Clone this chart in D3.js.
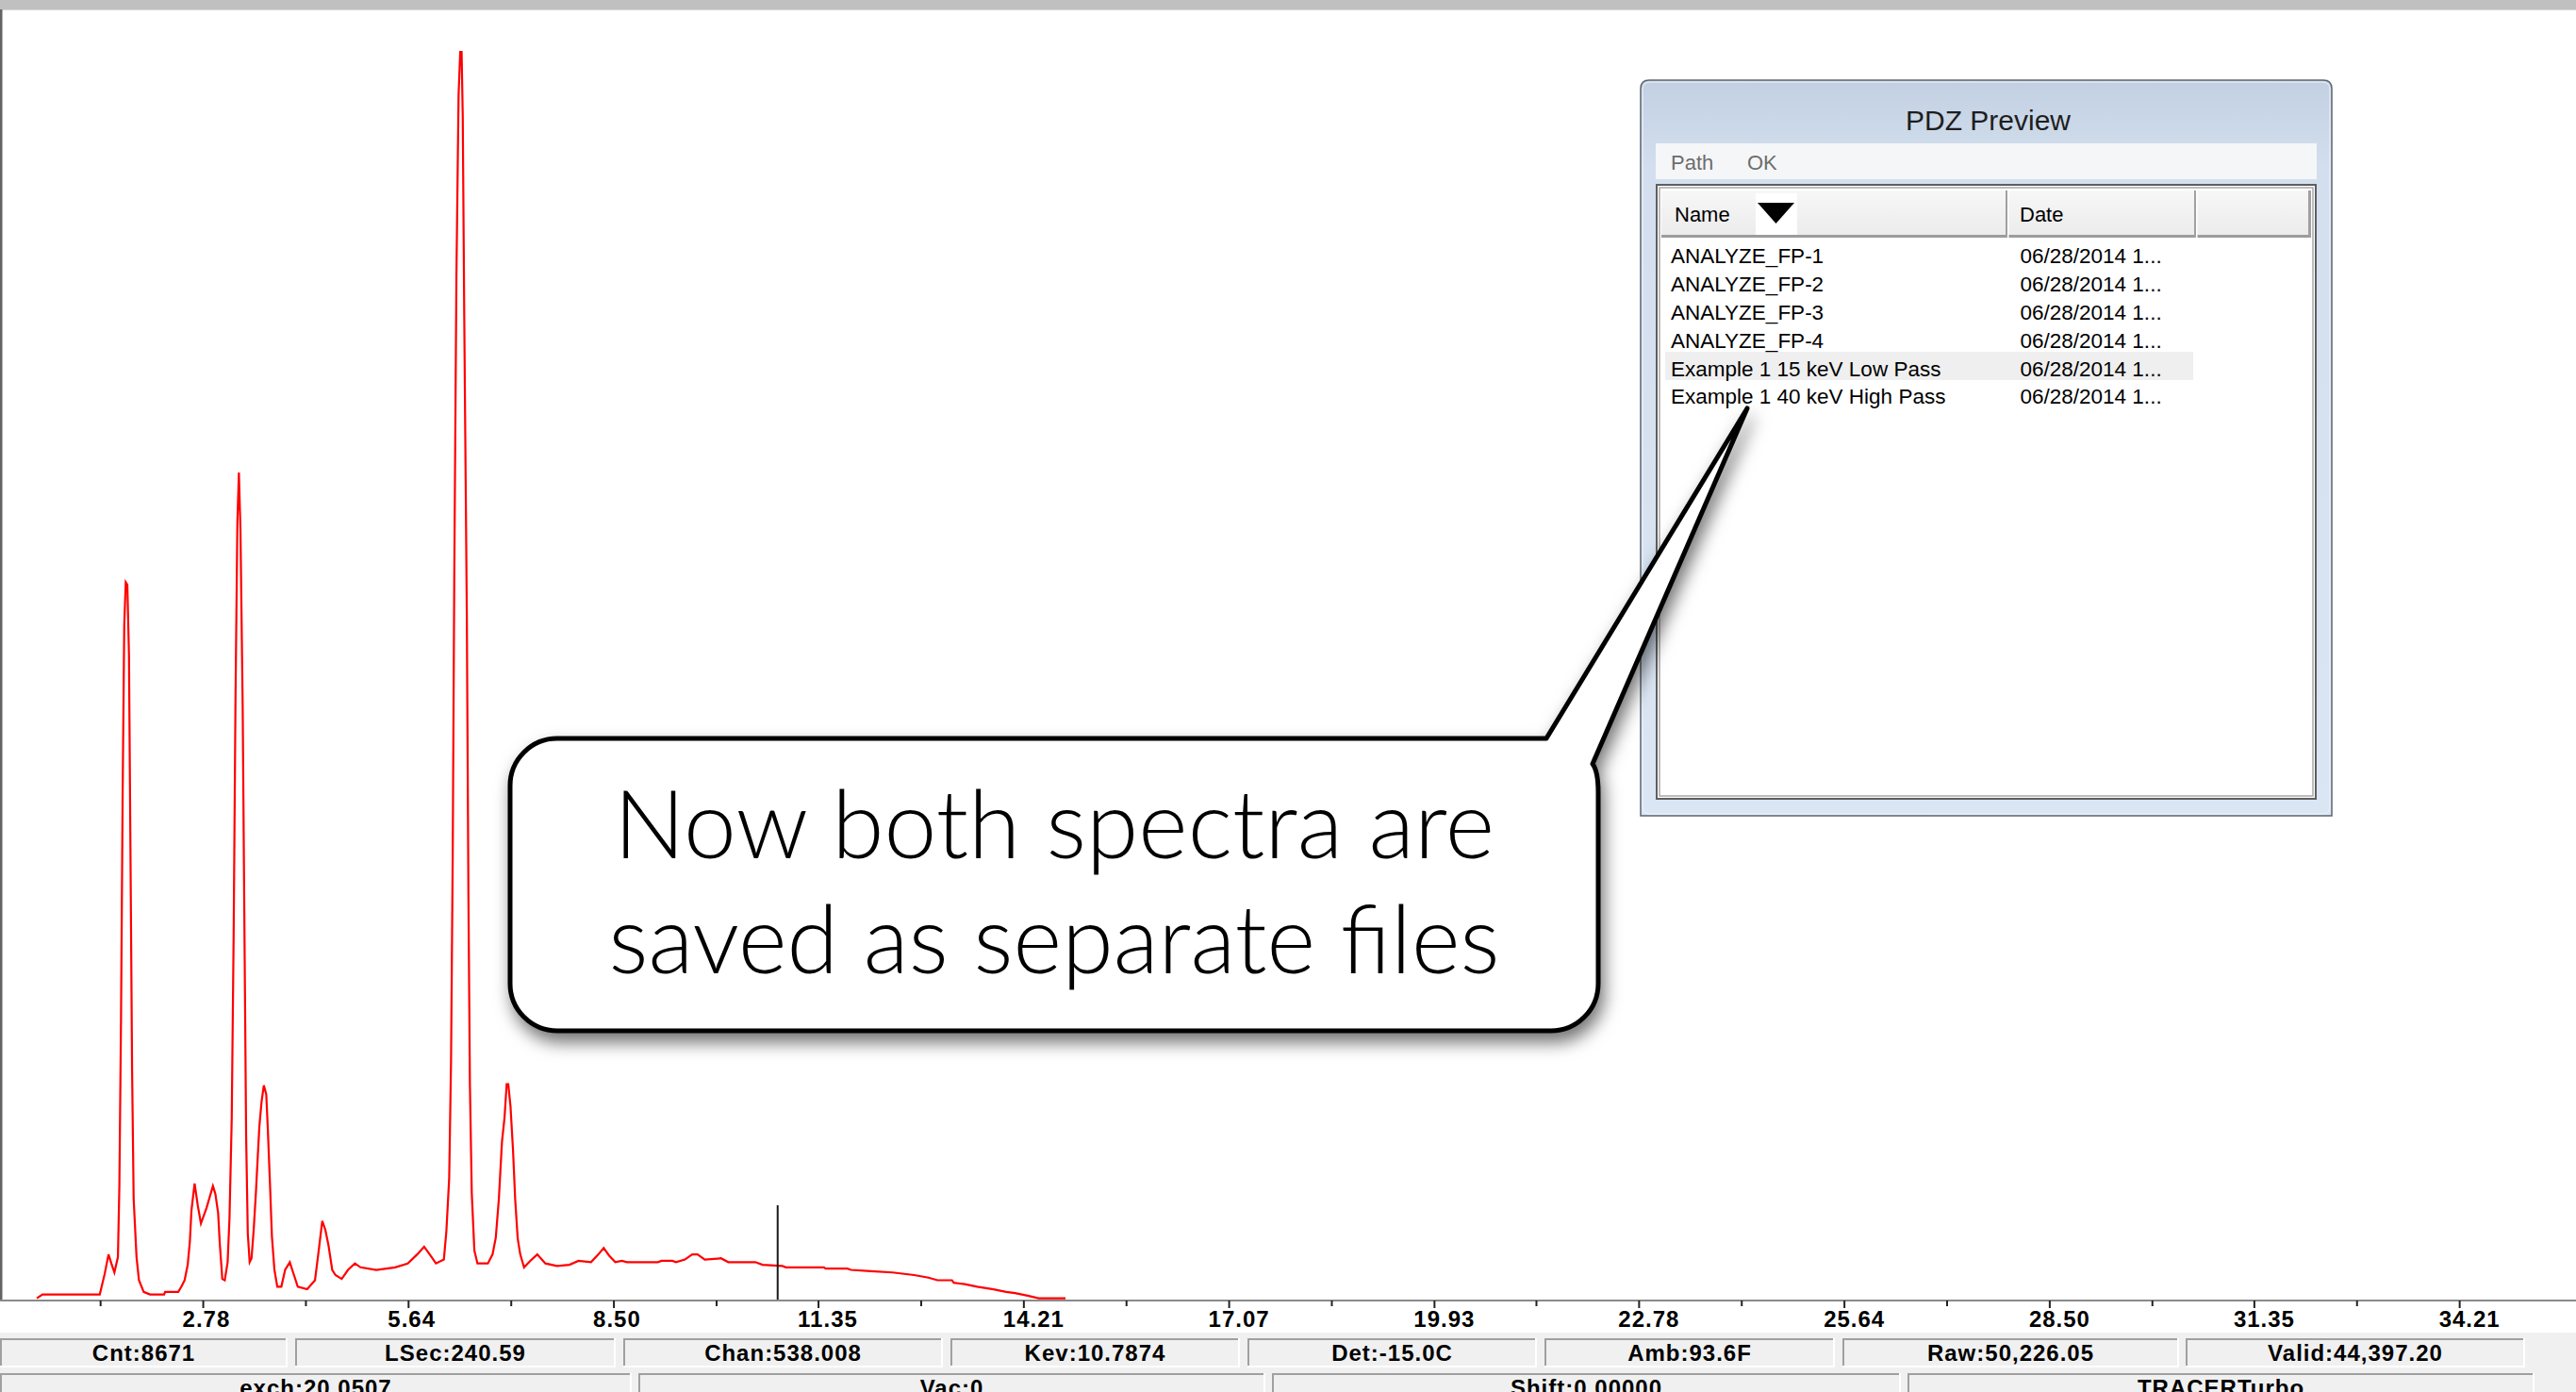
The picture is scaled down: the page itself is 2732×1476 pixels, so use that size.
<!DOCTYPE html>
<html><head><meta charset="utf-8">
<script src="https://cdn.jsdelivr.net/npm/d3@7"></script>
<style>html,body{margin:0;padding:0;background:#fff;overflow:hidden}</style>
</head><body>
<svg id="chart" width="2732" height="1476" xmlns="http://www.w3.org/2000/svg"></svg>
<script>
// ---------------- data ----------------
const spectrumKeV = [0.468,0.547,1.345,1.414,1.467,1.506,1.549,1.598,1.618,1.641,1.664,1.686,1.707,1.729,1.752,1.773,1.795,1.817,1.857,1.891,1.957,2.045,2.242,2.255,2.438,2.482,2.527,2.570,2.600,2.622,2.666,2.710,2.754,2.832,2.921,2.955,2.994,3.016,3.052,3.086,3.126,3.152,3.183,3.210,3.236,3.262,3.283,3.305,3.336,3.362,3.384,3.407,3.433,3.459,3.489,3.520,3.546,3.568,3.598,3.630,3.664,3.686,3.717,3.743,3.778,3.818,3.874,3.927,3.992,4.050,4.103,4.234,4.343,4.399,4.444,4.487,4.531,4.583,4.628,4.715,4.803,4.899,4.977,5.197,5.459,5.634,5.766,5.863,5.941,6.028,6.138,6.173,6.212,6.238,6.261,6.283,6.313,6.343,6.366,6.385,6.401,6.422,6.458,6.480,6.501,6.527,6.563,6.606,6.751,6.816,6.861,6.904,6.947,6.983,7.013,7.035,7.066,7.101,7.131,7.167,7.202,7.255,7.341,7.439,7.552,7.712,7.888,8.013,8.188,8.290,8.364,8.441,8.526,8.617,8.690,9.118,9.170,9.321,9.371,9.495,9.597,9.672,9.772,9.998,10.100,10.477,10.576,10.854,10.903,11.431,11.456,11.758,11.808,12.084,12.386,12.688,12.889,13.014,13.215,13.240,13.392,13.567,13.794,13.970,14.095,14.271,14.422,14.797];
const spectrumCounts = [1,4,4,20,35,28,21,33,88,217,394,523,556,554,499,345,179,78,33,15,6,4,4,6,6,10,15,27,45,69,90,73,59,71,88,82,67,44,16,15,29,63,140,284,468,603,641,596,458,275,126,51,29,32,54,83,111,134,153,166,159,132,88,49,23,10,10,23,29,19,10,8,15,40,61,54,42,23,19,16,23,28,25,23,25,28,35,41,35,28,31,53,94,185,342,561,794,934,967,967,917,761,529,313,166,82,38,28,28,35,48,78,122,141,167,167,150,116,78,47,35,25,30,35,28,26,27,30,29,35,40,34,29,30,29,29,30,30,29,31,35,35,31,32,29,29,27,26,25,25,24,24,23,22,21,19,17,15,15,13,12,10,8,6,5,3,1,1];
const majorTicks = [2.78,5.64,8.50,11.35,14.21,17.07,19.93,22.78,25.64,28.50,31.35,34.21];
const majorTickLabels = ["2.78","5.64","8.50","11.35","14.21","17.07","19.93","22.78","25.64","28.50","31.35","34.21"];
const minorTicks = [1.35,4.21,7.07,9.93,12.78,15.64,18.50,21.35,24.21,27.07,29.93,32.78];
const cursorKeV = 10.7874;
const statusRow1 = ["Cnt:8671","LSec:240.59","Chan:538.008","Kev:10.7874","Det:-15.0C","Amb:93.6F","Raw:50,226.05","Valid:44,397.20"];
const statusRow2 = ["exch:20.0507","Vac:0","Shift:0.00000","TRACERTurbo"];
const dialogTitle = "PDZ Preview";
const menuItems = ["Path","OK"];
const columnHeaders = ["Name","Date"];
const fileNames = ["ANALYZE_FP-1","ANALYZE_FP-2","ANALYZE_FP-3","ANALYZE_FP-4","Example 1 15 keV Low Pass","Example 1 40 keV High Pass"];
const fileDates = ["06/28/2014 1...","06/28/2014 1...","06/28/2014 1...","06/28/2014 1...","06/28/2014 1...","06/28/2014 1..."];
const selectedRow = 4;
const calloutLines = ["Now both spectra are","saved as separate files"];

// ---------------- layout ----------------
const W = 2732, H = 1476;
const axisY = 1378;
const svg = d3.select("#chart");
const ui = "'Liberation Sans', Arial, sans-serif";

const defs = svg.append("defs");
const shadow = defs.append("filter").attr("id","shadow").attr("x","-10%").attr("y","-10%").attr("width","130%").attr("height","140%");
shadow.append("feDropShadow").attr("dx",4).attr("dy",10).attr("stdDeviation",9).attr("flood-color","#000").attr("flood-opacity",0.55);
const fg = defs.append("linearGradient").attr("id","frameGrad").attr("x1",0).attr("y1",0).attr("x2",0).attr("y2",1);
fg.append("stop").attr("offset","0").attr("stop-color","#c2d0e2");
fg.append("stop").attr("offset","0.12").attr("stop-color","#d3dfee");
fg.append("stop").attr("offset","1").attr("stop-color","#dbe6f4");
const hg = defs.append("linearGradient").attr("id","hdrGrad").attr("x1",0).attr("y1",0).attr("x2",0).attr("y2",1);
hg.append("stop").attr("offset","0").attr("stop-color","#f7f7f7");
hg.append("stop").attr("offset","1").attr("stop-color","#ebebeb");

svg.append("rect").attr("width",W).attr("height",H).attr("fill","#fff");
// top gray strip and left border
svg.append("rect").attr("x",0).attr("y",0).attr("width",W).attr("height",10).attr("fill","#c0c0c0");
svg.append("rect").attr("x",0).attr("y",10).attr("width",W).attr("height",1).attr("fill","#d9d9d9");
svg.append("rect").attr("x",0).attr("y",10).attr("width",2.5).attr("height",axisY-10).attr("fill","#646464");

// scales
const x = d3.scaleLinear().domain([0, 35.84]).range([3.4, 3.4 + 76.14*35.84]);
const y = d3.scaleLinear().domain([0, 1000]).range([axisY, 10]);

// spectrum
const pts = spectrumKeV.map((k,i)=>[k, spectrumCounts[i]]);
svg.append("path").datum(pts)
  .attr("fill","none").attr("stroke","#ff0000").attr("stroke-width",2.2).attr("stroke-linejoin","miter")
  .attr("d", d3.line().x(d=>x(d[0])).y(d=>y(d[1])));

// cursor
svg.append("line").attr("x1",x(cursorKeV)).attr("x2",x(cursorKeV)).attr("y1",1278).attr("y2",axisY)
  .attr("stroke","#1a1a1a").attr("stroke-width",2);

// status bar background
svg.append("rect").attr("x",0).attr("y",1413).attr("width",W).attr("height",H-1413).attr("fill","#f0f0f0");

// axis line
svg.append("rect").attr("x",0).attr("y",axisY).attr("width",W).attr("height",2).attr("fill","#8a8a8a");
const minorAxis = svg.append("g").attr("transform",`translate(0,${axisY+1})`)
  .call(d3.axisBottom(x).tickValues(minorTicks).tickSize(6).tickSizeOuter(0).tickFormat(""));
const majorAxis = svg.append("g").attr("transform",`translate(0,${axisY+1})`)
  .call(d3.axisBottom(x).tickValues(majorTicks).tickSize(8).tickSizeOuter(0).tickFormat((d,i)=>majorTickLabels[i]));
[minorAxis, majorAxis].forEach(g=>{
  g.select(".domain").remove();
  g.selectAll(".tick line").attr("stroke","#222").attr("stroke-width",2);
});
majorAxis.selectAll(".tick text")
  .attr("font-family",ui).attr("font-weight","bold").attr("font-size",24).attr("letter-spacing",1)
  .attr("fill","#000").attr("text-anchor","start").attr("x",-22).attr("y",11).attr("dy","0.71em");

// status cells
function cell(x0,x1,y0,y1,label){
  const g = svg.append("g");
  g.append("rect").attr("x",x0).attr("y",y0).attr("width",x1-x0).attr("height",y1-y0).attr("fill","#f0f0f0");
  g.append("rect").attr("x",x0).attr("y",y0).attr("width",x1-x0).attr("height",2).attr("fill","#a0a0a0");
  g.append("rect").attr("x",x0).attr("y",y0).attr("width",2).attr("height",y1-y0).attr("fill","#a0a0a0");
  g.append("rect").attr("x",x0).attr("y",y1-2).attr("width",x1-x0).attr("height",2).attr("fill","#ffffff");
  g.append("rect").attr("x",x1-2).attr("y",y0).attr("width",2).attr("height",y1-y0).attr("fill","#ffffff");
  g.append("text").attr("x",(x0+x1)/2).attr("y",y0+24).attr("text-anchor","middle")
    .attr("font-family",ui).attr("font-weight","bold").attr("font-size",24).attr("letter-spacing",1)
    .attr("fill","#000").text(label);
}
const row1X = [[0,305],[313,653],[661,1000],[1008,1315],[1323,1630],[1638,1946],[1954,2311],[2318,2678]];
const row2X = [[0,670],[677,1342],[1349,2016],[2023,2688]];
statusRow1.forEach((t,i)=>cell(row1X[i][0],row1X[i][1],1419,1450,t));
statusRow2.forEach((t,i)=>cell(row2X[i][0],row2X[i][1],1456,1500,t));

// ---------------- dialog ----------------
const dlg = svg.append("g");
const dx0=1740, dy0=85, dx1=2473, dy1=865, r=9;
dlg.append("path")
  .attr("d",`M${dx0},${dy1} L${dx0},${dy0+r} Q${dx0},${dy0} ${dx0+r},${dy0} L${dx1-r},${dy0} Q${dx1},${dy0} ${dx1},${dy0+r} L${dx1},${dy1} Z`)
  .attr("fill","url(#frameGrad)").attr("stroke","#5c6570").attr("stroke-width",1.5);
dlg.append("rect").attr("x",dx0+2).attr("y",dy0+2).attr("width",dx1-dx0-4).attr("height",dy1-dy0-4).attr("rx",7)
  .attr("fill","none").attr("stroke","#eef3fa").attr("stroke-width",1);
dlg.append("text").attr("x",(dx0+dx1)/2+2).attr("y",138).attr("text-anchor","middle")
  .attr("font-family",ui).attr("font-size",30).attr("fill","#1e1e1e").text(dialogTitle);
// menu
dlg.append("rect").attr("x",1756).attr("y",152).attr("width",701).attr("height",38).attr("fill","#f5f6f8");
const menuX = [1772, 1853];
menuItems.forEach((m,i)=>dlg.append("text").attr("x",menuX[i]).attr("y",180)
  .attr("font-family",ui).attr("font-size",22).attr("fill","#6d6d6d").text(m));
// list box
dlg.append("rect").attr("x",1757).attr("y",196).attr("width",699).attr("height",651).attr("fill","#fff")
  .attr("stroke","#5e5e5e").attr("stroke-width",2);
dlg.append("rect").attr("x",1760).attr("y",199).attr("width",693).attr("height",645).attr("fill","none")
  .attr("stroke","#a8a8a8").attr("stroke-width",1.5);
// header
dlg.append("rect").attr("x",1762).attr("y",202).attr("width",689).attr("height",50).attr("fill","url(#hdrGrad)");
dlg.append("rect").attr("x",1762).attr("y",249).attr("width",689).attr("height",3).attr("fill","#9c9c9c");
const sepX = [2127, 2327];
sepX.forEach(sx=>{
  dlg.append("rect").attr("x",sx).attr("y",202).attr("width",2).attr("height",50).attr("fill","#a0a0a0");
  dlg.append("rect").attr("x",sx+2).attr("y",202).attr("width",1.5).attr("height",50).attr("fill","#ffffff");
});
dlg.append("rect").attr("x",2448).attr("y",202).attr("width",3).attr("height",50).attr("fill","#a0a0a0");
const hdrX = [1776, 2142];
columnHeaders.forEach((h,i)=>dlg.append("text").attr("x",hdrX[i]).attr("y",235)
  .attr("font-family",ui).attr("font-size",22).attr("fill","#000").text(h));
dlg.append("rect").attr("x",1862).attr("y",205).attr("width",44).attr("height",44).attr("fill","#fff");
dlg.append("path").attr("d","M1864,215 L1903,215 L1883.5,237 Z").attr("fill","#000");
// rows
dlg.append("rect").attr("x",1766).attr("y",373).attr("width",560).attr("height",30).attr("fill","#efefef");
fileNames.forEach((n,i)=>{
  const by = 279.3 + 29.8*i;
  dlg.append("text").attr("x",1772).attr("y",by).attr("font-family",ui).attr("font-size",22.5).attr("fill","#000").text(n);
  dlg.append("text").attr("x",2142.5).attr("y",by).attr("font-family",ui).attr("font-size",22.5).attr("fill","#000").text(fileDates[i]);
});

// ---------------- callout ----------------
const bL=541, bT=783, bR=1695, bB=1093, br=50;
const tip=[1853,433];
const bubblePath = `M${bL+br},${bT} L1640,${bT} L${tip[0]},${tip[1]} L1689,810 Q${bR},818 ${bR},840 L${bR},${bB-br} A${br},${br} 0 0 1 ${bR-br},${bB} L${bL+br},${bB} A${br},${br} 0 0 1 ${bL},${bB-br} L${bL},${bT+br} A${br},${br} 0 0 1 ${bL+br},${bT} Z`;
svg.append("path").attr("d",bubblePath).attr("fill","#fff").attr("stroke","#000").attr("stroke-width",5)
  .attr("stroke-linejoin","round").attr("filter","url(#shadow)");
const baseY = [910, 1032];
const lineW = [934, 945];
calloutLines.forEach((t,i)=>svg.append("text").attr("x",1118).attr("y",baseY[i]).attr("text-anchor","middle")
  .attr("font-family","Lato, 'Open Sans', sans-serif").attr("font-weight",300).attr("font-size",100)
  .attr("textLength",lineW[i]).attr("lengthAdjust","spacingAndGlyphs")
  .attr("fill","#000").text(t));
</script>
</body></html>
